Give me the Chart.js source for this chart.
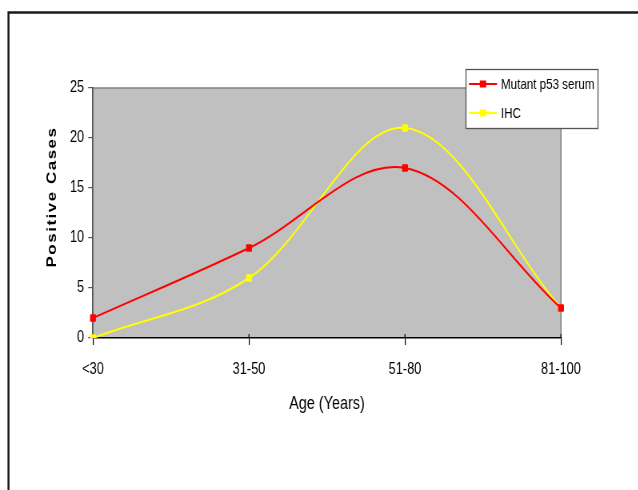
<!DOCTYPE html>
<html>
<head>
<meta charset="utf-8">
<script src="https://cdn.jsdelivr.net/npm/chart.js@4"></script>
<style>
  html, body { margin: 0; padding: 0; background: #fff; overflow: hidden; }
  #wrap { width: 638px; height: 490px; overflow: hidden; position: relative; }
  #c { display: block; position: absolute; left: 0; top: 0; transform: scaleX(0.8); transform-origin: 0 0; }
</style>
</head>
<body>
<div id="wrap"><canvas id="c" width="798" height="490"></canvas></div>
<script>
const categories = ['<30', '31-50', '51-80', '81-100'];
const mutantP53Serum = [2, 9, 17, 3];
const ihc = [0, 6, 21, 3];
const seriesLabels = ['Mutant p53 serum', 'IHC'];
const yTicks = [0, 5, 10, 15, 20, 25];
const xTitle = 'Age (Years)';
const yTitle = 'Positive Cases';

// the reference text is horizontally condensed; the canvas is drawn 1/0.8 wider and squeezed back
const SX = 0.8;
const FONT = '"Liberation Sans", Arial, sans-serif';

const decor = {
  id: 'decor',
  beforeDraw(chart) {
    const { ctx, chartArea: a } = chart;
    ctx.save();
    // outer frame
    ctx.strokeStyle = '#1a1a1a';
    ctx.lineWidth = 2.5;
    ctx.beginPath();
    ctx.moveTo(8.5 / SX, 492);
    ctx.lineTo(8.5 / SX, 12.5);
    ctx.lineTo(820, 12.5);
    ctx.stroke();
    // plot background
    ctx.fillStyle = '#C0C0C0';
    ctx.fillRect(a.left, a.top, a.right - a.left, a.bottom - a.top);
    ctx.strokeStyle = '#808080';
    ctx.lineWidth = 1.5;
    ctx.beginPath();
    ctx.moveTo(a.left, a.top);
    ctx.lineTo(a.right, a.top);
    ctx.lineTo(a.right, a.bottom);
    ctx.stroke();
    ctx.restore();
  },
  afterDraw(chart) {
    const { ctx, chartArea: a } = chart;
    const xs = chart.scales.x;
    ctx.save();
    // tick marks crossing above the x axis
    ctx.strokeStyle = '#000';
    ctx.lineWidth = 1.2;
    for (let i = 1; i < categories.length; i++) {
      const px = xs.getPixelForTick(i);
      ctx.beginPath();
      ctx.moveTo(px, a.bottom - 4);
      ctx.lineTo(px, a.bottom);
      ctx.stroke();
    }
    // y title with letter spacing
    ctx.translate(52 / SX, 197);
    ctx.rotate(-Math.PI / 2);
    ctx.font = 'bold 17px ' + FONT;
    try { ctx.letterSpacing = '1.5px'; } catch (e) {}
    ctx.fillStyle = '#000';
    ctx.textAlign = 'center';
    ctx.textBaseline = 'middle';
    ctx.fillText(yTitle, 0, 0);
    ctx.restore();

    // legend
    ctx.save();
    const lx = 466 / SX, ly = 69, lw = 132 / SX, lh = 59;
    ctx.fillStyle = '#fff';
    ctx.fillRect(lx, ly, lw, lh);
    ctx.strokeStyle = '#555';
    ctx.lineWidth = 1.3;
    ctx.strokeRect(lx, ly + 0.5, lw, lh);
    chart.data.datasets.forEach((ds, i) => {
      const y = ly + 15 + i * 29;
      ctx.strokeStyle = ds.borderColor;
      ctx.lineWidth = 2;
      ctx.beginPath();
      ctx.moveTo(lx + 3 / SX, y);
      ctx.lineTo(lx + 31 / SX, y);
      ctx.stroke();
      ctx.fillStyle = ds.borderColor;
      ctx.fillRect(lx + 17 / SX - 4, y - 3.5, 8, 7);
      ctx.fillStyle = '#000';
      ctx.font = '14.5px ' + FONT;
      ctx.textAlign = 'left';
      ctx.textBaseline = 'middle';
      ctx.fillText(ds.label, lx + 35 / SX, y + 1);
    });
    ctx.restore();
  }
};

new Chart(document.getElementById('c'), {
  type: 'line',
  data: {
    labels: categories,
    datasets: [
      {
        label: seriesLabels[0],
        data: mutantP53Serum,
        borderColor: '#FF0000',
        backgroundColor: '#FF0000',
        borderWidth: 2,
        tension: 0.35,
        pointStyle: 'rect',
        pointRadius: 4.5,
        pointBorderWidth: 1,
        pointBackgroundColor: '#FF0000',
        pointBorderColor: '#FF0000'
      },
      {
        label: seriesLabels[1],
        data: ihc,
        borderColor: '#FFFF00',
        backgroundColor: '#FFFF00',
        borderWidth: 2,
        tension: 0.35,
        pointStyle: 'rect',
        pointRadius: 4.5,
        pointBorderWidth: 1,
        pointBackgroundColor: '#FFFF00',
        pointBorderColor: '#FFFF00'
      }
    ]
  },
  options: {
    responsive: false,
    animation: false,
    layout: { padding: { left: 0, top: 88, right: 798 - 561 / SX, bottom: 0 } },
    plugins: {
      legend: { display: false },
      tooltip: { enabled: false }
    },
    scales: {
      x: {
        offset: false,
        afterFit(s) { s.height = 152; },
        grid: { drawOnChartArea: false, drawTicks: true, tickLength: 7, color: '#000', lineWidth: 1.2 },
        border: { display: true, color: '#000', width: 1.5 },
        ticks: { color: '#000', font: { family: FONT, size: 16 }, padding: 15, maxRotation: 0 },
        title: { display: true, text: xTitle, color: '#000', font: { family: FONT, size: 18 }, padding: { top: 0, bottom: 75 } }
      },
      y: {
        min: 0,
        max: 25,
        afterFit(s) { s.width = 93 / SX; },
        afterBuildTicks(s) { s.ticks = yTicks.map(v => ({ value: v })); },
        grid: { drawOnChartArea: false, drawTicks: true, tickLength: 6, color: '#555', lineWidth: 1.2 },
        border: { display: true, color: '#555', width: 1.8 },
        ticks: { color: '#000', font: { family: FONT, size: 16 }, padding: 5 }
      }
    }
  },
  plugins: [decor]
});
</script>
</body>
</html>
